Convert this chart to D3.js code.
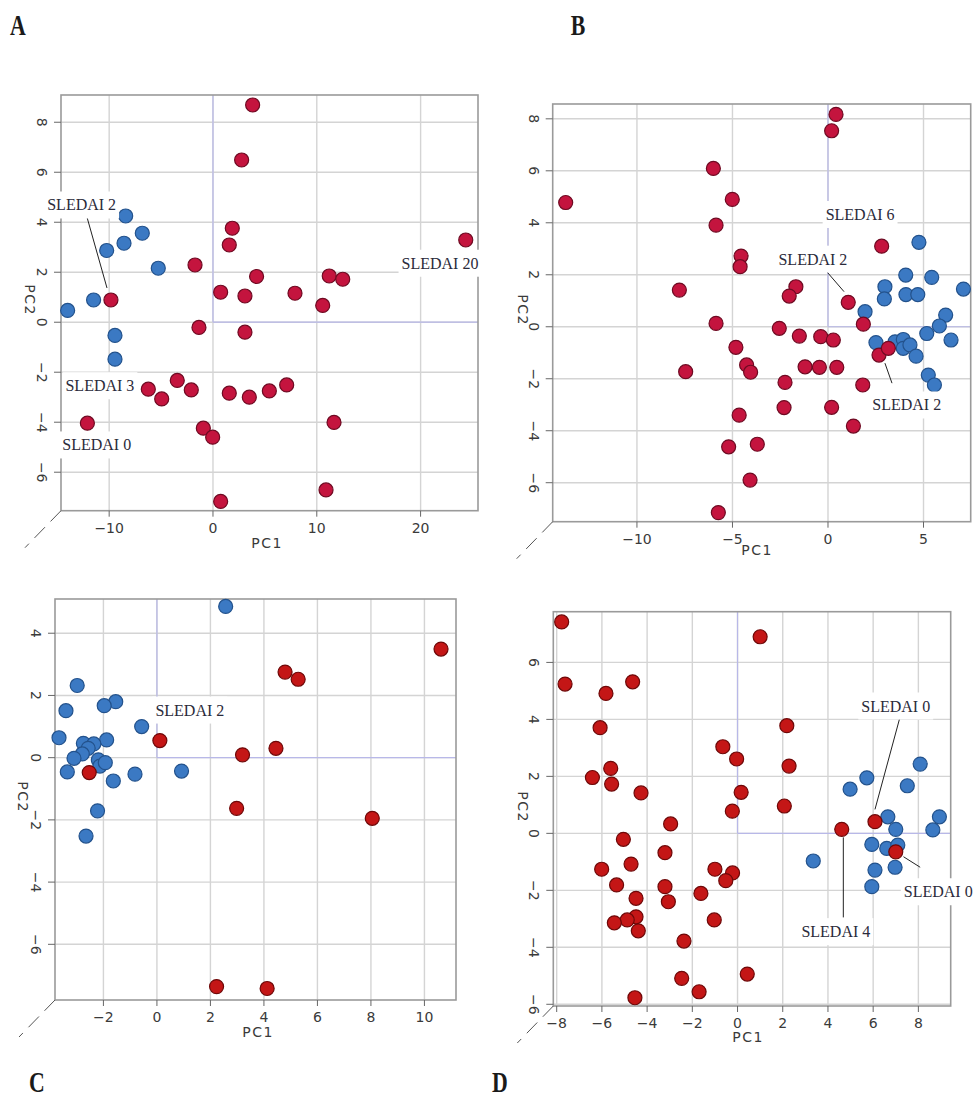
<!DOCTYPE html>
<html>
<head>
<meta charset="utf-8">
<script src="https://cdn.jsdelivr.net/npm/d3@7"></script>
<style>
body{margin:0;background:#fff;}
</style>
</head>
<body>
<svg id="fig" width="973" height="1099"></svg>
<script>

//panel A data
var aBlue = [[-8.41,4.25],[-6.81,3.56],[-8.57,3.16],[-10.24,2.87],[-5.27,2.16],[-11.5,0.89],[-14.0,0.47],[-9.44,-0.53],[-9.44,-1.48]];
var aRed = [[3.82,8.69],[2.76,6.49],[1.86,3.76],[1.57,3.09],[-1.73,2.29],[4.2,1.83],[0.74,1.2],[3.08,1.05],[-9.83,0.89],
			[-1.35,-0.21],[3.08,-0.4],[-6.23,-2.68],[-4.94,-3.07],[-3.44,-2.33],[-2.09,-2.71],[1.57,-2.84],[3.5,-3.0],
			[-12.1,-4.04],[-0.93,-4.24],[-0.03,-4.6],[0.74,-7.17],[24.35,3.29],[11.2,1.85],[12.5,1.72],[7.9,1.16],
			[10.57,0.67],[5.43,-2.75],[7.1,-2.51],[11.66,-4.01],[10.89,-6.71]];
var aTicksX = [-10,0,10,20];
var aTicksY = [-6,-4,-2,0,2,4,6,8];
var aNotes = [
	{text:'SLEDAI 2', x:-12.65, y:4.69, line:[-12.14,4.21,-10.21,1.37]},
	{text:'SLEDAI 3', x:-10.89, y:-2.54},
	{text:'SLEDAI 0', x:-11.2, y:-4.91},
	{text:'SLEDAI 20', x:21.87, y:2.36}
];

//panel B data
var bBlue = [[4.76,3.25],[4.07,1.99],[5.43,1.9],[2.98,1.54],[2.95,1.07],[4.08,1.24],[4.7,1.24],[7.09,1.45],[1.94,0.58],
			[6.16,0.45],[5.83,0.03],[5.17,-0.26],[6.44,-0.51],[2.51,-0.61],[3.51,-0.58],[3.94,-0.49],[3.94,-0.83],
			[4.29,-0.7],[4.61,-1.13],[5.25,-1.86],[5.57,-2.24]];
var bRed = [[-13.73,4.78],[-6.0,6.09],[-5.01,4.9],[-5.86,3.91],[-4.55,2.72],[-4.6,2.31],[-7.78,1.41],[-5.86,0.13],
			[-4.82,-0.79],[-7.45,-1.73],[-4.65,-3.4],[-5.2,-4.62],[-5.74,-7.15],[0.42,8.17],[0.19,7.54],[-1.68,1.54],
			[-2.03,1.18],[2.81,3.1],[1.06,0.94],[1.85,0.1],[-2.55,-0.06],[-1.5,-0.36],[-0.38,-0.38],[0.28,-0.51],
			[-4.26,-1.47],[-4.05,-1.75],[-1.2,-1.54],[-0.45,-1.56],[0.46,-1.56],[-2.25,-2.14],[1.82,-2.24],
			[-2.3,-3.11],[0.19,-3.1],[1.33,-3.82],[-3.7,-4.52],[-4.08,-5.9],[2.67,-1.09],[3.16,-0.83]];
var bTicksX = [-10,-5,0,5];
var bTicksY = [-6,-4,-2,0,2,4,6,8];
var bNotes = [
	{text:'SLEDAI 6', x:1.68, y:4.32},
	{text:'SLEDAI 2', x:-0.79, y:2.6, line:[-0.1,2.15,0.84,1.35]},
	{text:'SLEDAI 2', x:4.12, y:-3.01, line:[2.98,-1.4,3.35,-2.17]}
];

//panel C data
var cBlue = [[2.57,4.86],[-2.98,2.32],[-3.4,1.51],[-1.54,1.8],[-1.97,1.67],[-0.57,1.0],[-3.66,0.64],[-1.88,0.57],
			[-2.75,0.46],[-2.36,0.44],[-2.57,0.3],[-2.79,0.12],[-3.1,-0.02],[-2.19,-0.07],[-2.13,-0.27],[-1.93,-0.16],
			[-3.35,-0.46],[-0.82,-0.53],[0.92,-0.43],[-1.63,-0.75],[-2.22,-1.71],[-2.65,-2.52]];
var cRed = [[-2.53,-0.48],[0.11,0.55],[3.2,0.09],[2.98,-1.63],[2.23,-7.36],[10.62,3.49],[4.79,2.75],[5.28,2.52],
			[4.45,0.3],[8.05,-1.95],[4.12,-7.42]];
var cTicksX = [-2,0,2,4,6,8,10];
var cTicksY = [-6,-4,-2,0,2,4];
var cNotes = [
	{text:'SLEDAI 2', x:1.23, y:1.53}
];

//panel D data
var dBlue = [[8.08,2.43],[5.72,1.95],[7.51,1.67],[4.98,1.55],[6.65,0.58],[8.93,0.58],[7.0,0.14],[8.64,0.12],
			[5.94,-0.39],[6.6,-0.53],[7.09,-0.41],[3.35,-0.97],[6.08,-1.29],[6.97,-1.19],[5.94,-1.87]];
var dRed = [[-7.78,7.42],[-7.63,5.24],[-4.64,5.32],[-5.82,4.91],[-6.08,3.71],[-0.65,3.04],[-0.04,2.61],[-5.61,2.28],
			[-6.42,1.96],[-5.57,1.73],[-4.27,1.42],[0.16,1.44],[-0.23,0.78],[-2.96,0.33],[-5.05,-0.21],[-3.21,-0.68],
			[-6.01,-1.26],[-4.71,-1.08],[-1.0,-1.26],[-0.22,-1.39],[-0.52,-1.66],[-5.35,-1.81],[-3.21,-1.87],
			[-1.62,-2.11],[-4.49,-2.28],[-3.06,-2.4],[-4.49,-2.93],[-4.88,-3.04],[-5.45,-3.14],[-4.39,-3.42],
			[-1.03,-3.04],[-2.37,-3.78],[-2.47,-5.09],[-1.7,-5.56],[-4.54,-5.77],[1.0,6.9],[2.18,3.78],[2.28,2.36],
			[2.07,0.96],[4.61,0.14],[6.08,0.41],[7.0,-0.65],[0.43,-4.94]];
var dTicksX = [-8,-6,-4,-2,0,2,4,6,8];
var dTicksY = [-6,-4,-2,0,2,4,6];
var dNotes = [
	{text:'SLEDAI 0', x:7.0, y:4.47, line:[7.16,4.0,6.08,0.84]},
	{text:'SLEDAI 0', x:8.88, y:-2.05, line:[7.34,-0.82,8.08,-1.19]},
	{text:'SLEDAI 4', x:4.35, y:-3.45, line:[4.68,-0.14,4.68,-2.95]}
];

var svg = d3.select('#fig');
var numFmt = function(v){ return v < 0 ? '\u2212' + Math.abs(v) : '' + v; };

function panel(cfg, blue, red, ticksX, ticksY, notes){

	var x = d3.scaleLinear().domain(cfg.xd).range([cfg.l, cfg.r]);
	var y = d3.scaleLinear().domain(cfg.yd).range([cfg.b, cfg.t]);
	var g = svg.append('g');

	//grid
	g.selectAll('.gx').data(ticksX).enter().append('line')
		.attr('x1',function(d){ return x(d)}).attr('x2',function(d){ return x(d)})
		.attr('y1',cfg.t).attr('y2',cfg.b)
		.attr('stroke','#d4d4d4').attr('stroke-width',1.4);
	g.selectAll('.gy').data(ticksY).enter().append('line')
		.attr('y1',function(d){ return y(d)}).attr('y2',function(d){ return y(d)})
		.attr('x1',cfg.l).attr('x2',cfg.r)
		.attr('stroke','#d4d4d4').attr('stroke-width',1.4);

	//origin axes
	g.append('line').attr('x1',x(0)).attr('x2',x(0)).attr('y1',cfg.t).attr('y2',y(0))
		.attr('stroke','#b8b8e8').attr('stroke-width',1.2);
	g.append('line').attr('x1',x(0)).attr('x2',cfg.r).attr('y1',y(0)).attr('y2',y(0))
		.attr('stroke','#b8b8e8').attr('stroke-width',1.2);

	//frame
	g.append('rect').attr('x',cfg.l).attr('y',cfg.t)
		.attr('width',cfg.r-cfg.l).attr('height',cfg.b-cfg.t)
		.attr('fill','none').attr('stroke','#9a9a9a').attr('stroke-width',1.6);

	//depth axis
	g.append('line').attr('x1',cfg.l).attr('y1',cfg.b)
		.attr('x2',cfg.l-36).attr('y2',cfg.b+37)
		.attr('stroke','#555').attr('stroke-width',1)
		.attr('stroke-dasharray','15,8');

	//points
	g.selectAll('.pb').data(blue).enter().append('circle')
		.attr('cx',function(d){ return x(d[0])}).attr('cy',function(d){ return y(d[1])})
		.attr('r',7).attr('fill','#3b79c3').attr('stroke','#23528c').attr('stroke-width',1.2);
	g.selectAll('.pr').data(red).enter().append('circle')
		.attr('cx',function(d){ return x(d[0])}).attr('cy',function(d){ return y(d[1])})
		.attr('r',7).attr('fill',cfg.red).attr('stroke',cfg.redEdge).attr('stroke-width',1.2);

	//leaders
	notes.filter(function(d){ return d.line}).forEach(function(d){
		g.append('line')
			.attr('x1',x(d.line[0])).attr('y1',y(d.line[1]))
			.attr('x2',x(d.line[2])).attr('y2',y(d.line[3]))
			.attr('stroke','#222').attr('stroke-width',1);
	});

	//labels
	notes.forEach(function(d){
		var lg = g.append('g');
		var box = lg.append('rect').attr('fill','#fff');
		var t = lg.append('text')
			.attr('x',x(d.x)).attr('y',y(d.y))
			.attr('text-anchor','middle').attr('dominant-baseline','central')
			.style('font-family','"Liberation Serif", "Times New Roman", serif')
			.style('font-size','16px').attr('fill','#2a2a3a')
			.text(d.text);
		var bb = t.node().getBBox();
		box.attr('x',bb.x-3).attr('y',bb.y-5).attr('width',bb.width+6).attr('height',bb.height+10);
	});

	//ticks
	g.selectAll('.tx').data(ticksX).enter().append('line')
		.attr('x1',function(d){ return x(d)}).attr('x2',function(d){ return x(d)})
		.attr('y1',cfg.b).attr('y2',cfg.b+6).attr('stroke','#666');
	g.selectAll('.ty').data(ticksY).enter().append('line')
		.attr('y1',function(d){ return y(d)}).attr('y2',function(d){ return y(d)})
		.attr('x1',cfg.l-7).attr('x2',cfg.l).attr('stroke','#666');

	var tickStyle = function(sel){
		sel.style('font-family','"DejaVu Sans", sans-serif').style('font-size','14px')
			.attr('fill','#3a3a3a').attr('text-anchor','middle').attr('dominant-baseline','central');
	};

	g.selectAll('.lx').data(ticksX).enter().append('text')
		.attr('x',function(d){ return x(d)}).attr('y',cfg.b+17)
		.call(tickStyle).text(numFmt);
	g.selectAll('.ly').data(ticksY).enter().append('text')
		.attr('transform',function(d){ return 'translate('+(cfg.l-19)+','+y(d)+') rotate(90)'})
		.call(tickStyle).text(numFmt);

	g.append('text').attr('x',cfg.pc1[0]).attr('y',cfg.pc1[1])
		.call(tickStyle).style('letter-spacing','1.5px').text('PC1');
	g.append('text').attr('transform','translate('+cfg.pc2[0]+','+cfg.pc2[1]+') rotate(90)')
		.call(tickStyle).style('letter-spacing','1.5px').text('PC2');

	//panel letter
	svg.append('text')
		.attr('transform','translate('+cfg.letter[0]+','+cfg.letter[1]+') scale(0.78,1.06)')
		.attr('text-anchor','middle')
		.style('font-family','"Liberation Serif", serif').style('font-weight','bold')
		.style('font-size','28px').attr('fill','#1a1a1a')
		.text(cfg.name);
}

panel({name:'A', l:61, r:478, t:95, b:510.7, xd:[-14.64,25.53], yd:[-7.54,9.09],
		red:'#c4143e', redEdge:'#6e0a22', pc1:[267,543], pc2:[30,300], letter:[18,35]},
	aBlue, aRed, aTicksX, aTicksY, aNotes);

panel({name:'B', l:552.7, r:970.7, t:104, b:521.7, xd:[-14.41,7.47], yd:[-7.5,8.57],
		red:'#c4143e', redEdge:'#6e0a22', pc1:[757,550], pc2:[523,310], letter:[578,35]},
	bBlue, bRed, bTicksX, bTicksY, bNotes);

panel({name:'C', l:55, r:456, t:599, b:1000, xd:[-3.81,11.18], yd:[-7.79,5.1],
		red:'#c41616', redEdge:'#6e0808', pc1:[258,1032], pc2:[23,797], letter:[37,1092]},
	cBlue, cRed, cTicksX, cTicksY, cNotes);

panel({name:'D', l:553.3, r:950.7, t:611.7, b:1006, xd:[-8.15,9.43], yd:[-6.06,7.78],
		red:'#c41616', redEdge:'#6e0808', pc1:[748,1037], pc2:[523,807], letter:[500,1092]},
	dBlue, dRed, dTicksX, dTicksY, dNotes);

</script>
</body>
</html>
